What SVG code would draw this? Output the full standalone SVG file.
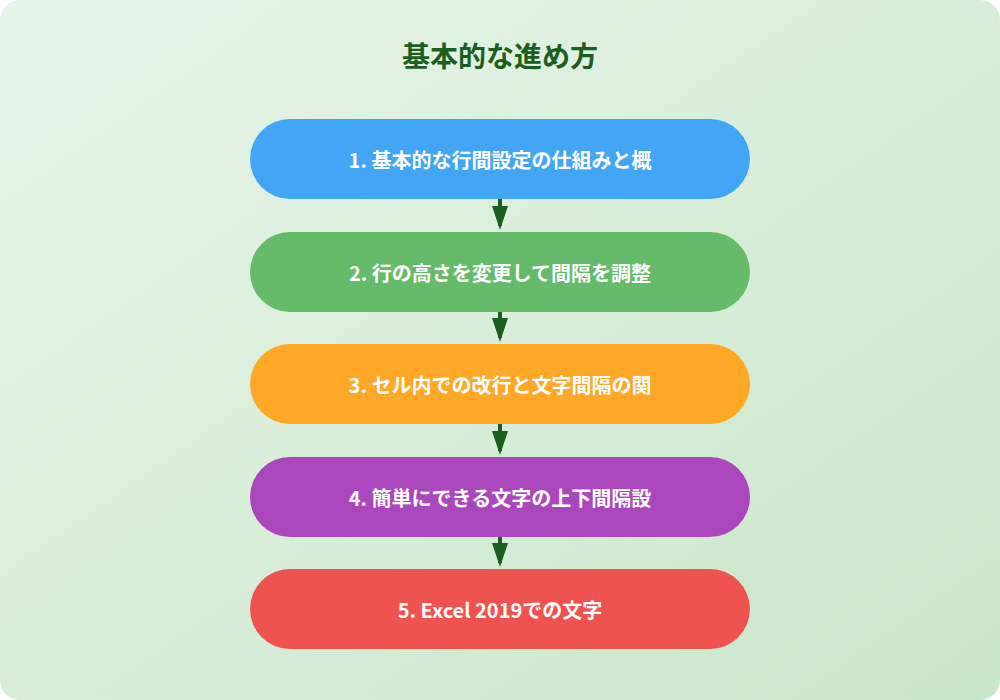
<svg xmlns="http://www.w3.org/2000/svg" width="1000" height="700" viewBox="0 0 1000 700">
<defs>
<linearGradient id="bg" x1="0" y1="0" x2="1" y2="1"><stop offset="0" stop-color="#e8f5e9"/><stop offset="1" stop-color="#c8e6c9"/></linearGradient>
<marker id="ah" markerWidth="6" markerHeight="4" refX="5" refY="2" orient="auto" markerUnits="strokeWidth"><path d="M0,0 L6,2 L0,4 Z" fill="#1b5e20"/></marker>
<style>
.t{font-family:"Noto Sans CJK JP","Noto Sans",sans-serif;font-weight:bold;fill:#fff;font-size:20px;text-anchor:middle;dominant-baseline:central}
.c{stroke:#1b5e20;stroke-width:4;fill:none;marker-end:url(#ah)}
</style>
</defs>
<rect width="1000" height="700" rx="20" fill="url(#bg)"/>
<text x="500" y="55" font-family="Noto Sans CJK JP,sans-serif" font-weight="bold" font-size="28" fill="#1b5e20" text-anchor="middle" dominant-baseline="central">基本的な進め方</text>
<g id="connectors">
<line class="c" x1="500" y1="199" x2="500" y2="226"/>
<line class="c" x1="500" y1="312" x2="500" y2="338"/>
<line class="c" x1="500" y1="424" x2="500" y2="451"/>
<line class="c" x1="500" y1="537" x2="500" y2="563"/>
</g>
<g id="n1"><rect x="250" y="119" width="500" height="80" rx="40" fill="#42a5f5"/><text class="t" x="500" y="159">1. 基本的な行間設定の仕組みと概</text></g>
<g id="n2"><rect x="250" y="232" width="500" height="80" rx="40" fill="#66bb6a"/><text class="t" x="500" y="272">2. 行の高さを変更して間隔を調整</text></g>
<g id="n3"><rect x="250" y="344" width="500" height="80" rx="40" fill="#ffa726"/><text class="t" x="500" y="384">3. セル内での改行と文字間隔の関</text></g>
<g id="n4"><rect x="250" y="457" width="500" height="80" rx="40" fill="#ab47bc"/><text class="t" x="500" y="497">4. 簡単にできる文字の上下間隔設</text></g>
<g id="n5"><rect x="250" y="569" width="500" height="80" rx="40" fill="#ef5350"/><text class="t" x="500" y="609">5. Excel 2019での文字</text></g>
</svg>
